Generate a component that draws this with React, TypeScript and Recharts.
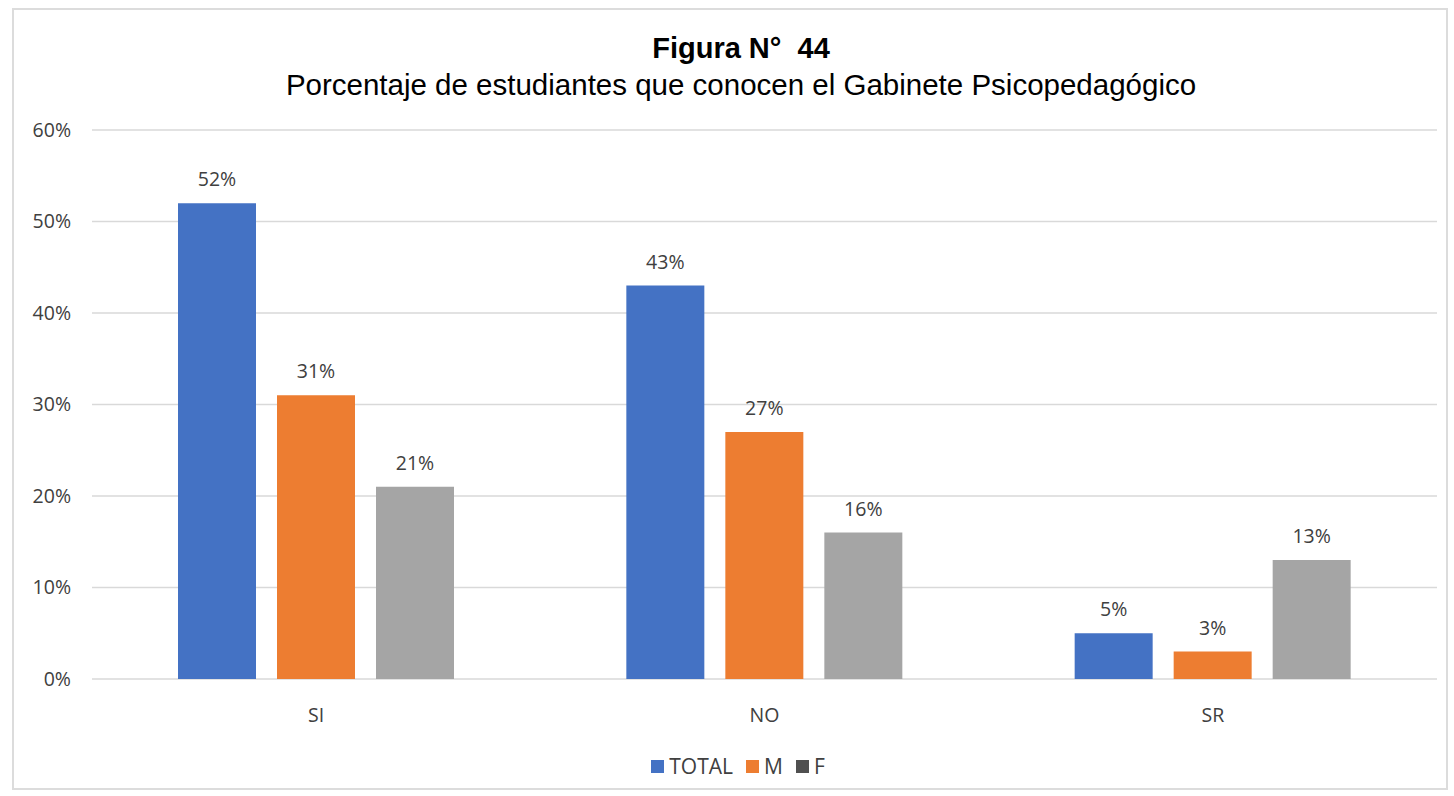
import { BarChart, Bar, XAxis, YAxis, CartesianGrid, LabelList } from 'recharts';

const categories = ['SI', 'NO', 'SR'];
const totalValues = [52, 43, 5];
const mValues = [31, 27, 3];
const fValues = [21, 16, 13];
const yTicks = [0, 10, 20, 30, 40, 50, 60];

const data = categories.map((cat, i) => ({
  cat,
  total: totalValues[i],
  m: mValues[i],
  f: fValues[i],
}));

const font = '"Open Sans", "Noto Sans", sans-serif';
const labelStyle = { fontSize: 19.5, fill: '#404040', fontFamily: font };

const legendItems = [
  { name: 'TOTAL', color: '#4472c4' },
  { name: 'M', color: '#ed7d31' },
  { name: 'F', color: '#505050' },
];

export default function App() {
  return (
    <div style={{ position: 'absolute', left: 0, top: 0, width: 1454, height: 796, background: '#fff' }}>
      <div
        style={{
          position: 'absolute',
          left: 12,
          top: 8,
          width: 1436,
          height: 782,
          border: '2px solid #dcdcdc',
          boxSizing: 'border-box',
        }}
      />
      <div
        style={{
          position: 'absolute',
          left: 0,
          width: 1454,
          top: 30,
          textAlign: 'center',
          fontFamily: '"Liberation Sans", Arial, sans-serif',
          color: '#000',
        }}
      >
        <div style={{ fontSize: 29, fontWeight: 'bold', marginLeft: 28, lineHeight: '36px', whiteSpace: 'pre' }}>Figura N°  44</div>
        <div style={{ fontSize: 29.5, lineHeight: '38px', marginLeft: 28 }}>
          Porcentaje de estudiantes que conocen el Gabinete Psicopedagógico
        </div>
      </div>
      <BarChart
        width={1454}
        height={796}
        data={data}
        margin={{ top: 130, right: 17, left: 0, bottom: 87 }}
        barSize={78}
        barGap={21}
        style={{ position: 'absolute', left: 0, top: 0 }}
      >
        <CartesianGrid stroke="#d9d9d9" strokeWidth={1.5} vertical={false} />
        <XAxis
          dataKey="cat"
          height={30}
          axisLine={false}
          tickLine={false}
          tickSize={0}
          tickMargin={29}
          tick={{ fontSize: 19.5, fill: '#404040', fontFamily: font }}
        />
        <YAxis
          width={92}
          domain={[0, 60]}
          ticks={yTicks}
          tickFormatter={(v) => `${v}%`}
          axisLine={false}
          tickLine={false}
          tickSize={0}
          tickMargin={21}
          tick={{ fontSize: 19.5, fill: '#404040', fontFamily: font }}
        />
        <Bar dataKey="total" fill="#4472c4" isAnimationActive={false}>
          <LabelList dataKey="total" position="top" offset={17} formatter={(v) => `${v}%`} style={labelStyle} />
        </Bar>
        <Bar dataKey="m" fill="#ed7d31" isAnimationActive={false}>
          <LabelList dataKey="m" position="top" offset={17} formatter={(v) => `${v}%`} style={labelStyle} />
        </Bar>
        <Bar dataKey="f" fill="#a5a5a5" isAnimationActive={false}>
          <LabelList dataKey="f" position="top" offset={17} formatter={(v) => `${v}%`} style={labelStyle} />
        </Bar>
      </BarChart>
      <div
        style={{
          position: 'absolute',
          left: 0,
          width: 1454,
          top: 752,
          display: 'flex',
          justifyContent: 'center',
          gap: 13,
          fontFamily: font,
          fontSize: 21,
          color: '#404040',
          paddingLeft: 22,
          boxSizing: 'border-box',
        }}
      >
        {legendItems.map((it) => (
          <div key={it.name} style={{ display: 'flex', alignItems: 'center', gap: 5 }}>
            <span style={{ display: 'inline-block', width: 13, height: 13, background: it.color }} />
            <span>{it.name}</span>
          </div>
        ))}
      </div>
    </div>
  );
}
